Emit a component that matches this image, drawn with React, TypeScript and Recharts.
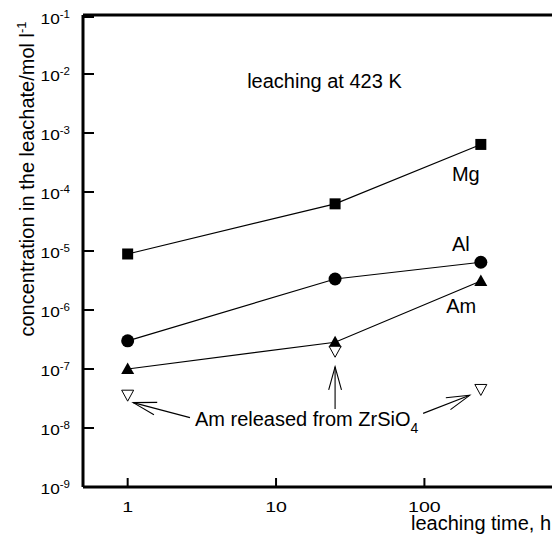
import { ComposedChart, Line, Scatter, XAxis, YAxis, ReferenceDot, ReferenceLine } from "recharts";

const FONT = '"Liberation Sans", Arial, Helvetica, sans-serif';

// leaching time, h
const times = [1, 25, 240];
// concentration, mol/l
const mg = [8.9e-6, 6.3e-5, 6.4e-4];
const al = [3.0e-7, 3.35e-6, 6.45e-6];
const am = [1.0e-7, 2.84e-7, 3.1e-6];
const amZrSiO4 = [3.6e-8, 2.0e-7, 4.5e-8];

const xTicks = [1, 10, 100];
const yTicks = [1e-9, 1e-8, 1e-7, 1e-6, 1e-5, 1e-4, 1e-3, 1e-2, 1e-1];

const notes = [
  { text: "leaching at 423 K", x: 21.2, y: 5.8e-3 },
  { text: "Mg", x: 190, y: 1.55e-4 },
  { text: "Al", x: 176, y: 1.0e-5 },
  { text: "Am", x: 177, y: 8.8e-7 },
];

// arrows from the "Am released from ZrSiO4" caption to the open triangles
const arrows = [
  { from: { x: 2.63, y: 1.5e-8 }, to: { x: 1.09, y: 2.69e-8 } },
  { from: { x: 25, y: 2.1e-8 }, to: { x: 25, y: 1.09e-7 } },
  { from: { x: 98, y: 1.77e-8 }, to: { x: 202, y: 3.58e-8 } },
];

const pts = (ys: number[]) => times.map((x, i) => ({ x, y: ys[i] }));

const BottomTick = ({ x, y, payload }: any) => (
  <g>
    <line x1={x} y1={y} x2={x} y2={y - 9} stroke="#000" strokeWidth={2} />
    <text
      transform={`translate(${x},${y + 25}) scale(1.35,1)`}
      textAnchor="middle"
      fontSize={14.5}
      fontFamily={FONT}
      fill="#000"
    >
      {payload.value}
    </text>
  </g>
);

const TopTick = ({ x, y }: any) => <line x1={x} y1={y} x2={x} y2={y + 9} stroke="#000" strokeWidth={2} />;

const LeftTick = ({ x, y, payload }: any) => (
  <g>
    <line x1={x} y1={y} x2={x + 11} y2={y} stroke="#000" strokeWidth={2} />
    <text
      transform={`translate(${x - 13},${y + 6.5}) scale(1.15,1)`}
      textAnchor="end"
      fontSize={15}
      fontFamily={FONT}
      fill="#000"
    >
      10
      <tspan dy={-5.5} fontSize={10}>
        {Math.round(Math.log10(payload.value))}
      </tspan>
    </text>
  </g>
);

const RightTick = ({ x, y }: any) => <line x1={x} y1={y} x2={x - 11} y2={y} stroke="#000" strokeWidth={2} />;

const Square = ({ cx, cy }: any) => <rect x={cx - 5.5} y={cy - 5.5} width={11} height={11} fill="#000" />;
const Circle = ({ cx, cy }: any) => <circle cx={cx} cy={cy} r={6.5} fill="#000" />;
const TriUp = ({ cx, cy }: any) => (
  <path d={`M${cx - 6.5},${cy + 5} L${cx + 6.5},${cy + 5} L${cx},${cy - 6.5} Z`} fill="#000" />
);
const TriDown = ({ cx, cy }: any) => (
  <path d={`M${cx - 6},${cy - 5} L${cx + 6},${cy - 5} L${cx},${cy + 6} Z`} fill="#fff" stroke="#000" strokeWidth={1} />
);

const Arrow = ({ x1, y1, x2, y2 }: any) => {
  const a = Math.atan2(y1 - y2, x1 - x2);
  const len = 24;
  const spread = 0.27;
  const h1 = { x: x2 + len * Math.cos(a - spread), y: y2 + len * Math.sin(a - spread) };
  const h2 = { x: x2 + len * Math.cos(a + spread), y: y2 + len * Math.sin(a + spread) };
  return (
    <g stroke="#000" strokeWidth={1.1} fill="none">
      <line x1={x1} y1={y1} x2={x2} y2={y2} />
      <polyline points={`${h1.x},${h1.y} ${x2},${y2} ${h2.x},${h2.y}`} />
    </g>
  );
};

const YLabel = ({ viewBox }: any) => {
  const cx = 26;
  const cy = viewBox.y + viewBox.height / 2 - 72;
  return (
    <text x={cx} y={cy} transform={`rotate(-90 ${cx} ${cy})`} textAnchor="middle" fontSize={20} fontFamily={FONT} fill="#000">
      concentration in the leachate/mol l
      <tspan dy={-8} fontSize={13}>-1</tspan>
    </text>
  );
};

const XLabel = ({ viewBox }: any) => (
  <text x={viewBox.x + 328} y={viewBox.y + 43} fontSize={20} fontFamily={FONT} fill="#000">
    leaching time, h
  </text>
);

export default function App() {
  return (
    <div style={{ width: 552, height: 526, overflow: "hidden", background: "#fff" }}>
      <ComposedChart width={580} height={526} margin={{ top: 6, right: 21, bottom: 0, left: 0 }}>
        <XAxis
          dataKey="x"
          type="number"
          scale="log"
          domain={[0.5, 900]}
          allowDataOverflow
          ticks={xTicks}
          tick={<BottomTick />}
          tickSize={0}
          tickMargin={0}
          tickLine={false}
          axisLine={{ stroke: "#000", strokeWidth: 3 }}
          height={47}
          label={<XLabel />}
        />
        <XAxis
          xAxisId="top"
          orientation="top"
          type="number"
          scale="log"
          domain={[0.5, 900]}
          allowDataOverflow
          ticks={xTicks}
          tick={<TopTick />}
          tickSize={0}
          tickMargin={0}
          tickLine={false}
          axisLine={{ stroke: "#000", strokeWidth: 3 }}
          height={1}
        />
        <YAxis
          dataKey="y"
          type="number"
          scale="log"
          domain={[1e-9, 1e-1]}
          allowDataOverflow
          ticks={yTicks}
          tick={<LeftTick />}
          tickSize={0}
          tickMargin={0}
          tickLine={false}
          axisLine={{ stroke: "#000", strokeWidth: 3 }}
          width={75}
          label={<YLabel />}
        />
        <YAxis
          yAxisId="right"
          orientation="right"
          type="number"
          scale="log"
          domain={[1e-9, 1e-1]}
          allowDataOverflow
          ticks={yTicks}
          tick={<RightTick />}
          tickSize={0}
          tickMargin={0}
          tickLine={false}
          axisLine={{ stroke: "#000", strokeWidth: 3 }}
          width={1}
        />

        <Line data={pts(mg)} dataKey="y" stroke="#000" strokeWidth={1.2} dot={<Square />} isAnimationActive={false} />
        <Line data={pts(al)} dataKey="y" stroke="#000" strokeWidth={1.2} dot={<Circle />} isAnimationActive={false} />
        <Line data={pts(am)} dataKey="y" stroke="#000" strokeWidth={1.2} dot={<TriUp />} isAnimationActive={false} />
        <Scatter data={pts(amZrSiO4)} dataKey="y" shape={<TriDown />} isAnimationActive={false} />

        {arrows.map((a, i) => (
          <ReferenceLine key={i} segment={[a.from, a.to]} shape={<Arrow />} />
        ))}

        {notes.map((n) => (
          <ReferenceDot
            key={n.text}
            x={n.x}
            y={n.y}
            r={0}
            shape={({ cx, cy }: any) => (
              <text x={cx} y={cy} textAnchor="middle" fontSize={20} fontFamily={FONT} fill="#000">
                {n.text}
              </text>
            )}
          />
        ))}
        <ReferenceDot
          x={2.84}
          y={1.08e-8}
          r={0}
          shape={({ cx, cy }: any) => (
            <text x={cx} y={cy} fontSize={20} fontFamily={FONT} fill="#000">
              Am released from ZrSiO
              <tspan dy={7} fontSize={14}>4</tspan>
            </text>
          )}
        />
      </ComposedChart>
    </div>
  );
}
